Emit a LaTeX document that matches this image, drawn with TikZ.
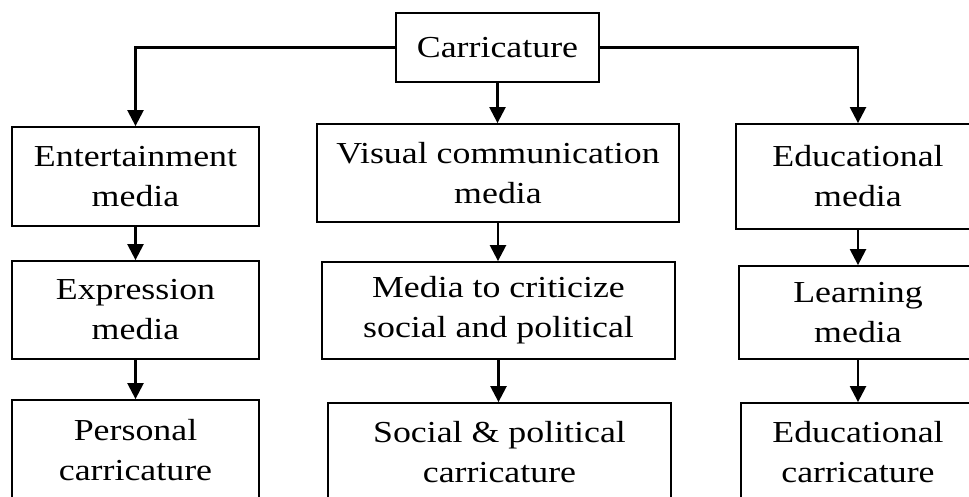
\documentclass[tikz,border=0pt]{standalone}
\usepackage{fontspec}
\setmainfont[FakeStretch=1.175]{Liberation Serif}
\usetikzlibrary{arrows.meta}
\tikzset{
  box/.style={draw, line width=1.8pt, align=center, inner sep=0pt,
    font=\fontsize{30.5}{40}\selectfont},
  conn/.style={line width=2.4pt, -{Triangle[width=16pt,length=16pt]}}
}
\begin{document}
\begin{tikzpicture}[x=1pt,y=-1pt]
\useasboundingbox (0,0) rectangle (969,496);
\clip (0,0) rectangle (969,496);
% top
\node[box, minimum width=203pt, minimum height=69pt] (car) at (497.5,47.5) {Carricature};
% level 1
\node[box, minimum width=247pt, minimum height=99pt] (ent) at (135.5,176.5) {Entertainment\\media};
\node[box, minimum width=362pt, minimum height=98pt] (vis) at (498,173) {Visual communication\\media};
\node[box, minimum width=244pt, minimum height=105pt] (edm) at (858,176.5) {Educational\\media};
% level 2
\node[box, minimum width=247pt, minimum height=98pt] (exp) at (135.5,310) {Expression\\media};
\node[box, minimum width=353pt, minimum height=97pt] (med) at (498.5,310.5) {Media to criticize\\social and political};
\node[box, minimum width=238pt, minimum height=93pt] (lrn) at (858,312.5) {Learning\\media};
% level 3
\node[box, minimum width=247pt, minimum height=100pt] (per) at (135.5,450) {Personal\\carricature};
\node[box, minimum width=343pt, minimum height=98pt] (soc) at (499.5,452) {Social \& political\\carricature};
\node[box, minimum width=234pt, minimum height=98pt] (edc) at (858,452) {Educational\\carricature};
% connectors
\draw[conn] (car.west) -| (ent.north);
\draw[conn] (car.east) -| (edm.north);
\draw[conn] (car.south) -- (car.south |- vis.north);
\draw[conn] (ent.south) -- (exp.north);
\draw[conn] (exp.south) -- (per.north);
\draw[conn] (vis.south) -- (vis.south |- med.north);
\draw[conn] (med.south) -- (med.south |- soc.north);
\draw[conn] (edm.south) -- (lrn.north);
\draw[conn] (lrn.south) -- (edc.north);
\end{tikzpicture}
\end{document}
